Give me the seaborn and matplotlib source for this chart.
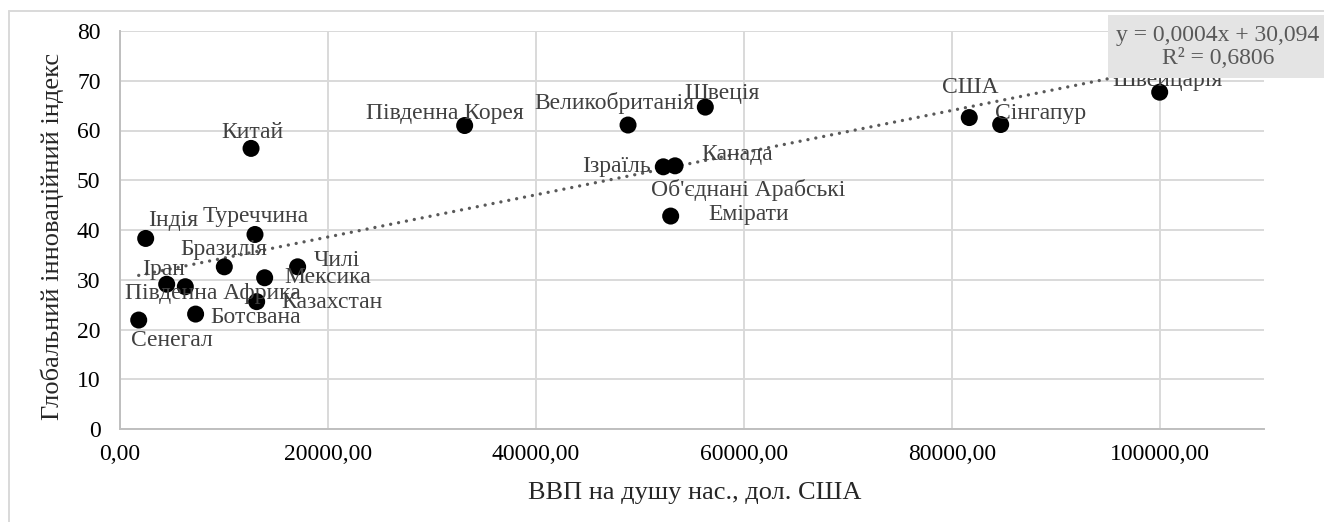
import numpy as np
import pandas as pd
import matplotlib.pyplot as plt
import seaborn as sns
from matplotlib.patches import Rectangle

# data
countries = ["Індія", "Туреччина", "Бразилія", "Чилі", "Мексика", "Іран",
             "Південна Африка", "Казахстан", "Ботсвана", "Сенегал", "Китай",
             "Південна Корея", "Великобританія", "Швеція", "Ізраїль", "Канада",
             "Об'єднані Арабські\nЕмірати", "США", "Сінгапур", "Швейцарія"]
gdp = [2470, 12980, 10030, 17080, 13910, 4490, 6280, 13140, 7270, 1800, 12600,
       33140, 48850, 56280, 52240, 53370, 52950, 81660, 84680, 99970]
gii = [38.3, 39.1, 32.6, 32.6, 30.4, 29.1, 28.6, 25.6, 23.1, 21.9, 56.4,
       61.0, 61.1, 64.7, 52.7, 52.9, 42.8, 62.6, 61.2, 67.7]
xticks = [0, 20000, 40000, 60000, 80000, 100000]
yticks = [0, 10, 20, 30, 40, 50, 60, 70, 80]
eq_text = "y = 0,0004x + 30,094\nR² = 0,6806"

# label offsets in pixels (dx right, dy up) from each point
label_off = [(27, 18), (1, 18), (-1, 17), (39, 6), (63, 0), (-3, 15),
             (28, -7), (75, -1), (60, -3), (33, -20), (1, 16),
             (-20, 12), (-14, 22), (17, 14), (-47, 0), (62, 11),
             (78, 14), (1, 30), (40, 11), (8, 12)]

df = pd.DataFrame({"country": countries, "gdp": gdp, "gii": gii})

sns.set_style("white")
plt.rcParams['font.family'] = ['Liberation Serif', 'DejaVu Serif']

W, H = 1324, 522
fig = plt.figure(figsize=(W / 100, H / 100), dpi=100)
ax = fig.add_axes([120 / W, (H - 429) / H, (1264 - 120) / W, (429 - 31) / H])

sns.regplot(data=df, x="gdp", y="gii", ax=ax, scatter=False, ci=None,
            line_kws=dict(color="#595959", lw=2.4, ls=(0, (0.01, 2.4)),
                          dash_capstyle="round"))
sns.scatterplot(data=df, x="gdp", y="gii", ax=ax, color="black", s=150,
                edgecolor="none", zorder=3)

for name, x, y, (dx, dy) in zip(countries, gdp, gii, label_off):
    ax.annotate(name, (x, y), xytext=(dx, dy), textcoords="offset pixels",
                ha="center", va="center", fontsize=17, color="#404040",
                linespacing=1.2, zorder=4)

ax.set_xlim(0, 110000)
ax.set_ylim(0, 80)
ax.set_xticks(xticks)
ax.set_xticklabels([f"{v},00" for v in xticks])
ax.set_yticks(yticks)
ax.tick_params(labelsize=17, colors="black", length=0)
ax.tick_params(axis="x", pad=11)
ax.tick_params(axis="y", pad=14)
ax.grid(True, color="#d9d9d9", lw=1.4)
ax.set_axisbelow(True)
for s in ["top", "right"]:
    ax.spines[s].set_visible(False)
for s in ["left", "bottom"]:
    ax.spines[s].set_color("#bfbfbf")
    ax.spines[s].set_linewidth(1.4)
ax.set_xlabel("")
ax.set_ylabel("")

fig.text(695 / W, 1 - 493 / H, "ВВП на душу нас., дол. США", ha="center",
         va="center", fontsize=19)
fig.text(52 / W, 1 - 236 / H, "Глобальний інноваційний індекс", ha="center",
         va="center", rotation=90, fontsize=19)

# equation box
fig.patches.append(Rectangle((1108 / W, 1 - 78 / H), (W - 1108) / W, 63 / H,
                             transform=fig.transFigure, facecolor="#e4e4e4",
                             edgecolor="none", zorder=5))
fig.text(1218 / W, 1 - 47 / H, eq_text, ha="center", va="center", fontsize=17,
         color="#595959", linespacing=1.15, zorder=6)

# chart border (left and top visible)
fig.add_artist(plt.Line2D([9 / W, 9 / W], [0, 1 - 11 / H], transform=fig.transFigure,
                          color="#d9d9d9", lw=1.4))
fig.add_artist(plt.Line2D([9 / W, 1], [1 - 11 / H, 1 - 11 / H], transform=fig.transFigure,
                          color="#d9d9d9", lw=1.4))

fig.savefig("out.png", dpi=100)
